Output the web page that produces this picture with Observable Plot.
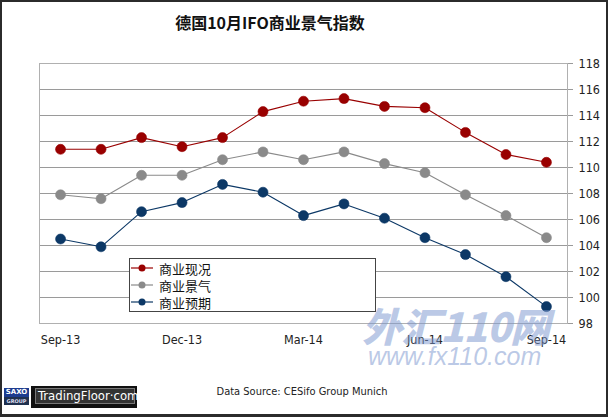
<!DOCTYPE html>
<html>
<head>
<meta charset="utf-8">
<script src="https://cdn.jsdelivr.net/npm/d3@7"></script>
<script src="https://cdn.jsdelivr.net/npm/@observablehq/plot@0.6"></script>
<style>
  html, body { margin:0; padding:0; background:#fff; }
  #wrap { position:relative; width:608px; height:417px; overflow:hidden; background:#fff; }
  #wrap > svg { position:absolute; left:0; top:0; }
  .abs { position:absolute; }
  #title { left:0; top:10px; width:540px; text-align:center; font-family:"Noto Sans CJK SC", sans-serif; font-weight:bold; font-size:16px; color:#111; }
  #legend { left:129px; top:258px; width:245px; height:52px; border:1px solid #444; background:#fff; font-family:"Noto Sans CJK SC", sans-serif; font-size:13px; color:#111; }
  .item { position:absolute; left:1px; height:17px; line-height:17px; white-space:nowrap; }
  .item svg { vertical-align:middle; }
  .item span { vertical-align:middle; margin-left:6px; }
  #source { left:0; top:385px; width:604px; text-align:center; font-family:"DejaVu Sans Condensed","DejaVu Sans",sans-serif; font-size:11px; color:#222; }
  #frame { left:0; top:0; width:608px; height:417px; box-sizing:border-box; border:2px solid #2b2b2b; border-bottom-width:3px; pointer-events:none; }
  #wm1 { left:362px; top:296px; font-family:"Noto Sans CJK SC", sans-serif; font-weight:900; font-style:italic; font-size:40px; color:rgba(120,148,205,0.5); letter-spacing:-1px; }
  #wm2 { left:368px; top:342px; font-family:"Liberation Sans", sans-serif; font-style:italic; font-size:25px; color:rgba(120,148,205,0.5); }
</style>
</head>
<body>
<div id="wrap"></div>
<script>
const months = ["Sep-13","Oct-13","Nov-13","Dec-13","Jan-14","Feb-14","Mar-14","Apr-14","May-14","Jun-14","Jul-14","Aug-14","Sep-14"];
const xTicks = ["Sep-13","Dec-13","Mar-14","Jun-14","Sep-14"];
const yTicks = [98,100,102,104,106,108,110,112,114,116,118];
const seriesNames = ["商业现况","商业景气","商业预期"];
const seriesColors = ["#990000","#8a8a8a","#0c3866"];
const current      = [111.4,111.4,112.3,111.6,112.3,114.3,115.1,115.3,114.7,114.6,112.7,111.0,110.4];
const climate      = [107.9,107.6,109.4,109.4,110.6,111.2,110.6,111.2,110.3,109.6,107.9,106.3,104.6];
const expectations = [104.5,103.9,106.6,107.3,108.7,108.1,106.3,107.2,106.1,104.6,103.3,101.6,99.3];
const title = "德国10月IFO商业景气指数";
const source = "Data Source: CESifo Group Munich";

const valuesBySeries = [current, climate, expectations];
const rows = [];
seriesNames.forEach((s, i) => {
  months.forEach((m, j) => rows.push({series: s, month: m, value: valuesBySeries[i][j]}));
});

const chart = Plot.plot({
  width: 608,
  height: 417,
  marginLeft: 39,
  marginRight: 41,
  marginTop: 63,
  marginBottom: 94,
  style: {fontFamily: "'DejaVu Sans Condensed','DejaVu Sans',sans-serif", fontSize: "12.5px", color: "#222", background: "transparent"},
  x: {type: "point", domain: months, padding: 0.52, round: false},
  y: {domain: [98, 118]},
  color: {domain: seriesNames, range: seriesColors},
  marks: [
    Plot.gridY(yTicks, {stroke: "#9a9a9a", strokeOpacity: 1}),
    Plot.frame({stroke: "#b0b0b0"}),
    Plot.axisY({anchor: "right", ticks: yTicks, tickSize: 5, tickPadding: 6, stroke: "#9a9a9a", fill: "#222", label: null}),
    Plot.axisX({ticks: xTicks, tickSize: 0, tickPadding: 12, fill: "#222", label: null}),
    Plot.line(rows, {x: "month", y: "value", z: "series", stroke: "series", strokeWidth: 1.1}),
    Plot.dot(rows, {x: "month", y: "value", fill: "series", stroke: "series", r: 5, strokeWidth: 0.6})
  ]
});

const wrap = document.getElementById("wrap");
wrap.appendChild(chart);

function add(id, html) {
  const d = document.createElement("div");
  d.id = id; d.className = "abs"; d.innerHTML = html;
  wrap.appendChild(d);
  return d;
}
add("title", title);
add("wm1", "外汇110网");
add("wm2", "www.fx110.com");

const legend = add("legend", "");
seriesNames.forEach((s, i) => {
  const it = document.createElement("div");
  it.className = "item";
  it.style.top = (-1 + i * 17) + "px";
  it.innerHTML = `<svg width="22" height="12"><line x1="0" y1="6" x2="22" y2="6" stroke="${seriesColors[i]}" stroke-width="1.2"/><circle cx="11" cy="6" r="3.5" fill="${seriesColors[i]}"/></svg><span>${s}</span>`;
  legend.appendChild(it);
});

add("source", source);

// logo
const logo = add("logo", `
  <div style="position:absolute;left:4px;top:388px;width:25px;height:17px;background:#1d3c8f;"></div>
  <div style="position:absolute;left:4px;top:397px;width:25px;height:8px;background:#20314f;"></div>
  <div style="position:absolute;left:4px;top:388px;width:25px;font:bold 7px 'DejaVu Sans',sans-serif;color:#fff;text-align:center;line-height:9px;">SAXO</div>
  <div style="position:absolute;left:4px;top:397px;width:25px;font:bold 5px 'DejaVu Sans',sans-serif;color:#dde;text-align:center;line-height:8px;">GROUP</div>
  <div style="position:absolute;left:31px;top:386px;width:106px;height:22px;background:#111;"></div>
  <div style="position:absolute;left:35px;top:388px;width:100px;height:16px;background:#333;border:1px solid #777;box-sizing:border-box;"></div>
  <div style="position:absolute;left:38px;top:387px;font:13px 'DejaVu Sans Condensed','DejaVu Sans',sans-serif;color:#fff;line-height:18px;">TradingFloor·com</div>
`);
logo.style.left = "0px"; logo.style.top = "0px";

add("frame", "");
</script>
</body>
</html>
